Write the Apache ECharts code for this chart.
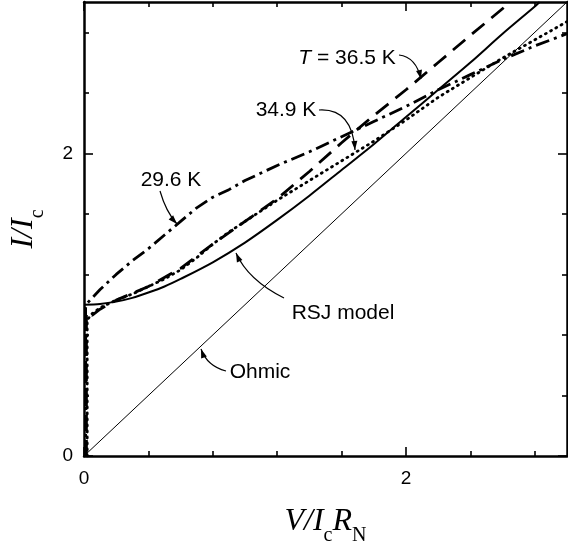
<!DOCTYPE html>
<html>
<head>
<meta charset="utf-8">
<script src="https://cdn.jsdelivr.net/npm/echarts@6/dist/echarts.min.js"></script>
<style>
  html, body { margin: 0; padding: 0; background: #fff; }
  #chart { width: 568px; height: 550px; }
</style>
</head>
<body>
<div id="chart"></div>
<script>
// values: x = V/IcRN, y = I/Ic
const ohmicV = [0, 3];
const ohmicI = [0, 3];

const rsjV = [0, 0.1, 0.2, 0.3, 0.4, 0.5, 0.6, 0.8, 1.0, 1.2, 1.4, 1.6, 1.8, 2.0, 2.2, 2.4, 2.6, 2.8, 2.83];
const rsjI = [1.00, 1.005, 1.02, 1.045, 1.08, 1.12, 1.17, 1.28, 1.41, 1.56, 1.72, 1.89, 2.06, 2.24, 2.42, 2.60, 2.79, 2.97, 3.00];

// 29.6 K
const t296V = [0.01, 0.01, 0.02, 0.1, 0.2, 0.3, 0.4, 0.5, 0.6, 0.7, 0.8, 0.9, 1.0, 1.2, 1.4, 1.6, 1.8, 2.0, 2.2, 2.4, 2.6, 2.8, 3.0];
const t296I = [0.00, 0.98, 1.01, 1.10, 1.20, 1.29, 1.37, 1.46, 1.55, 1.64, 1.71, 1.76, 1.82, 1.92, 2.01, 2.11, 2.21, 2.31, 2.42, 2.52, 2.62, 2.71, 2.79];

// 34.9 K
const t349V = [0.02, 0.02, 0.05, 0.1, 0.2, 0.3, 0.4, 0.5, 0.6, 0.7, 0.8, 0.9, 1.0, 1.2, 1.4, 1.6, 1.8, 2.0, 2.2, 2.4, 2.6, 2.8, 3.0];
const t349I = [0.00, 0.90, 0.94, 0.98, 1.03, 1.07, 1.12, 1.17, 1.23, 1.31, 1.40, 1.48, 1.55, 1.69, 1.82, 1.95, 2.08, 2.22, 2.37, 2.50, 2.63, 2.75, 2.87];

// 36.5 K
const t365V = [0.015, 0.015, 0.05, 0.1, 0.2, 0.4, 0.6, 0.8, 1.0, 1.2, 1.4, 1.6, 1.8, 2.0, 2.2, 2.4, 2.65];
const t365I = [0.00, 0.95, 0.93, 0.97, 1.03, 1.12, 1.24, 1.40, 1.55, 1.70, 1.88, 2.07, 2.25, 2.42, 2.60, 2.78, 3.00];

const xMajor = [0, 2];
const xMinor = [0.4, 0.8, 1.2, 1.6, 2.4, 2.8];
const yMajor = [0, 2];
const yMinor = [0.4, 0.8, 1.2, 1.6, 2.4, 2.8];

const sans = '"Liberation Sans", Arial, sans-serif';
const serif = '"Liberation Serif", "Times New Roman", serif';

function pairs(xs, ys) {
  return xs.map((x, i) => [x, ys[i]]);
}

const titleRich = {
  i: { fontFamily: serif, fontStyle: 'italic', fontSize: 32, lineHeight: 24, verticalAlign: 'top', color: '#000' },
  s: { fontFamily: serif, fontSize: 20, lineHeight: 40, verticalAlign: 'bottom', color: '#000' }
};

function makeAxis(pos, major, isMajor, withLabel, name, nameGap, margin) {
  const ax = {
    type: 'value',
    min: 0,
    max: 3,
    position: pos,
    gridIndex: 0,
    splitLine: { show: false },
    axisLine: { show: isMajor, onZero: false, lineStyle: { color: '#000', width: 2.5 } },
    axisTick: {
      show: true, inside: true, length: isMajor ? 9 : 5,
      customValues: major,
      lineStyle: { color: '#000', width: 1.6 }
    },
    axisLabel: { show: false }
  };
  if (withLabel) {
    ax.axisLabel = {
      show: true, customValues: major, margin: margin,
      fontFamily: sans, fontSize: 19, color: '#000'
    };
    ax.name = name;
    ax.nameLocation = 'middle';
    ax.nameGap = nameGap;
    ax.nameTextStyle = { rich: titleRich };
  }
  return ax;
}

// annotation labels and curved arrows (pixel layout)
const notes = [
  { text: '{it|T} = 36.5 K', x: 347, y: 58 },
  { text: '34.9 K', x: 286, y: 110 },
  { text: '29.6 K', x: 171, y: 180 },
  { text: 'RSJ model', x: 343, y: 313 },
  { text: 'Ohmic', x: 260, y: 372 }
];
const arrows = [
  { s: [399, 55], c: [416, 57], t: [421, 79] },
  { s: [319, 110], c: [352, 108], t: [355, 150] },
  { s: [160, 191], c: [166, 212], t: [177, 224] },
  { s: [284, 298], c: [248, 280], t: [236, 253] },
  { s: [226, 371], c: [207, 366], t: [201, 349] }
];

const graphics = [];
notes.forEach(n => {
  graphics.push({
    type: 'text', silent: true,
    style: {
      text: n.text, x: n.x, y: n.y, align: 'center', verticalAlign: 'middle',
      font: '21px ' + sans, fill: '#000',
      rich: { it: { fontStyle: 'italic', fontSize: 21, fontFamily: sans } }
    }
  });
});
arrows.forEach(a => {
  graphics.push({
    type: 'bezierCurve', silent: true,
    shape: { x1: a.s[0], y1: a.s[1], x2: a.t[0], y2: a.t[1], cpx1: a.c[0], cpy1: a.c[1] },
    style: { stroke: '#000', lineWidth: 1.2, fill: null }
  });
  let dx = a.t[0] - a.c[0], dy = a.t[1] - a.c[1];
  const len = Math.sqrt(dx * dx + dy * dy);
  dx /= len; dy /= len;
  const bx = a.t[0] - dx * 9, by = a.t[1] - dy * 9;
  graphics.push({
    type: 'polygon', silent: true,
    shape: { points: [[a.t[0], a.t[1]], [bx - dy * 3, by + dx * 3], [bx + dy * 3, by - dx * 3]] },
    style: { fill: '#000' }
  });
});

const chart = echarts.init(document.getElementById('chart'), null, { renderer: 'canvas' });
chart.setOption({
  animation: false,
  backgroundColor: '#fff',
  grid: { left: 84, right: 1, top: 2, bottom: 94, outerBoundsMode: 'none', containLabel: false },
  xAxis: [
    makeAxis('bottom', xMajor, true, true, '{i|V/I}{s|c}{i|R}{s|N}', 50, 13),
    makeAxis('bottom', xMinor, false, false),
    makeAxis('top', xMajor, true, false),
    makeAxis('top', xMinor, false, false)
  ],
  yAxis: [
    makeAxis('left', yMajor, true, true, '{i|I/I}{s|c}', 36, 11),
    makeAxis('left', yMinor, false, false),
    makeAxis('right', yMajor, true, false),
    makeAxis('right', yMinor, false, false)
  ],
  series: [
    {
      name: 'Ohmic', type: 'line', data: pairs(ohmicV, ohmicI), showSymbol: false,
      lineStyle: { color: '#000', width: 1 }
    },
    {
      name: 'RSJ model', type: 'line', data: pairs(rsjV, rsjI), showSymbol: false,
      smooth: 0.3, lineStyle: { color: '#000', width: 2 }
    },
    {
      name: '29.6 K', type: 'line', data: pairs(t296V, t296I), showSymbol: false,
      lineStyle: { color: '#000', width: 2.8, type: [14, 5, 3, 5] }
    },
    {
      name: '34.9 K', type: 'line', data: pairs(t349V, t349I), showSymbol: false,
      lineStyle: { color: '#000', width: 2.8, type: [1, 5], cap: 'round' }
    },
    {
      name: '36.5 K', type: 'line', data: pairs(t365V, t365I), showSymbol: false,
      lineStyle: { color: '#000', width: 2.8, type: [16, 9] }
    }
  ],
  graphic: graphics
});
</script>
</body>
</html>
